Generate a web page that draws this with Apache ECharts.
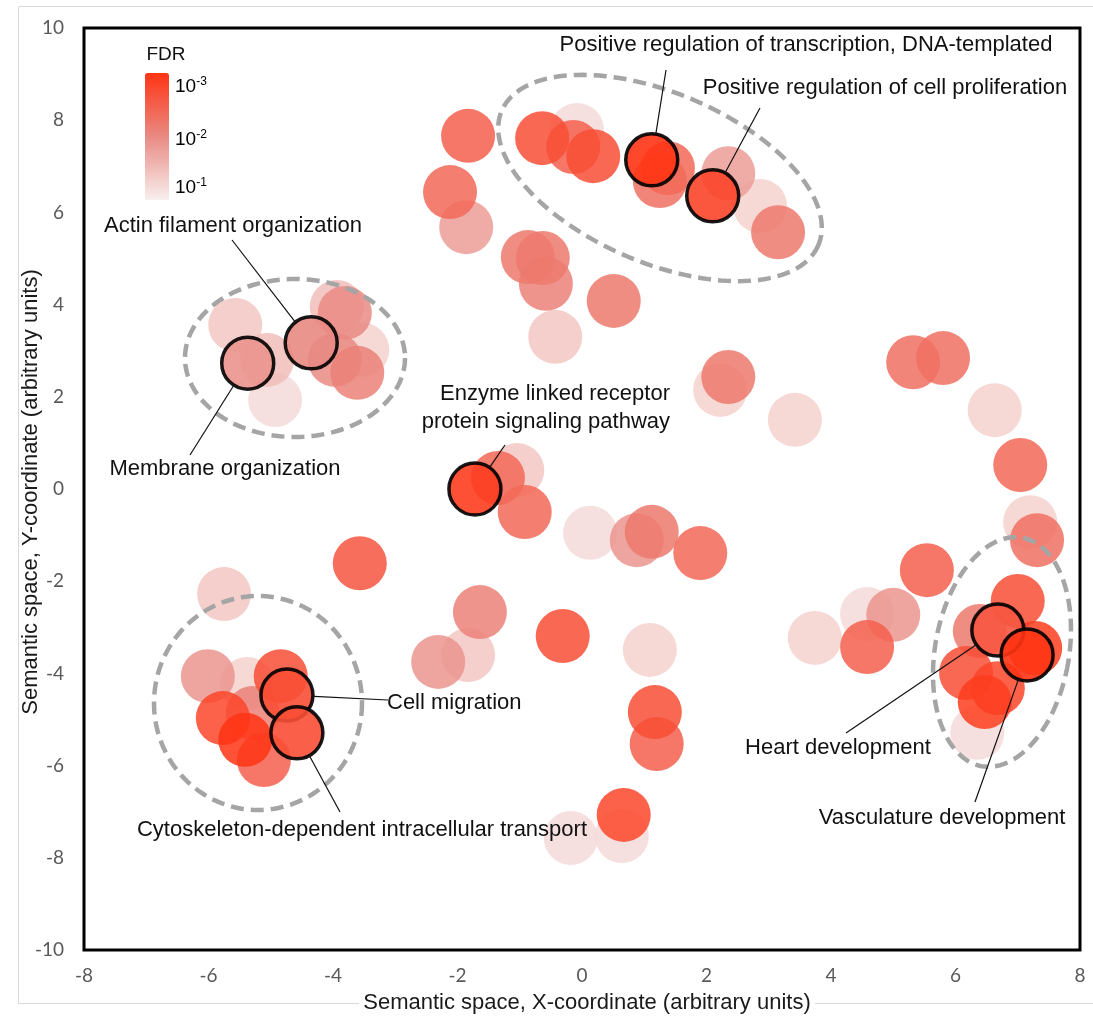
<!DOCTYPE html>
<html style="height: 100%">
<head>
	<meta charset="utf-8">
</head>
<body style="height: 100%; margin: 0; background: #fff">
<div id="container" style="width: 1093px; height: 1019px"></div>
<script type="text/javascript" src="https://cdn.jsdelivr.net/npm/echarts@6/dist/echarts.min.js"></script>
<script type="text/javascript">
    // GO terms in semantic space, fdr column is -log10(FDR)
    var termX = [-1.83, -2.12, -1.86, -0.87, -0.63, -0.58, 0.51, -0.43, -0.64, -0.08, -0.14, 0.18, 1.38, 1.25, 2.35, 2.86, 3.15,
        -5.57, -5.06, -4.93, -3.94, -3.81, -3.53, -3.97, -3.61,
        2.35, 2.22, 3.42, -1.35, -1.04, -0.92, 0.13, 0.88, 1.12, 1.90, -3.57,
        -5.75, -6.01, -5.38, -4.84, -5.77, -5.29, -5.41, -5.11,
        -1.64, -2.31, -1.83, -0.31, 1.09, 1.17, 1.20, 0.67, 0.64, -0.18,
        5.32, 5.80, 6.63, 7.04, 7.20, 7.31, 5.54, 3.74, 4.58, 5.00, 4.58, 7.00, 6.39, 7.28, 6.17, 6.68, 6.47, 6.35];
    var termY = [7.66, 6.44, 5.68, 5.03, 5.01, 4.45, 4.08, 3.30, 7.61, 7.79, 7.42, 7.22, 6.96, 6.68, 6.85, 6.14, 5.57,
        3.56, 2.80, 1.93, 3.95, 3.82, 3.02, 2.80, 2.52,
        2.43, 2.15, 1.50, 0.24, 0.41, -0.50, -0.95, -1.11, -0.93, -1.39, -1.61,
        -2.28, -4.06, -4.23, -4.06, -4.97, -4.86, -5.44, -5.88,
        -2.67, -3.75, -3.60, -3.19, -3.49, -4.84, -5.53, -7.07, -7.53, -7.57,
        2.75, 2.84, 1.71, 0.52, -0.72, -1.11, -1.76, -3.23, -2.71, -2.73, -3.43, -2.43, -3.08, -3.45, -3.99, -4.32, -4.62, -5.29];
    var termFdr = [2.5, 2.4, 1.8, 2.2, 2.2, 2.1, 2.2, 1.4, 2.7, 1.2, 2.5, 2.7, 2.4, 2.3, 1.8, 1.3, 2.2,
        1.4, 1.5, 1.2, 1.5, 2.0, 1.3, 2.0, 2.1,
        2.2, 1.3, 1.3, 2.4, 1.4, 2.4, 1.2, 1.9, 2.2, 2.4, 2.6,
        1.4, 1.9, 1.3, 2.7, 2.8, 2.1, 3.0, 2.5,
        2.1, 1.9, 1.4, 2.7, 1.3, 2.7, 2.5, 2.8, 1.2, 1.2,
        2.3, 2.3, 1.3, 2.4, 1.3, 2.3, 2.5, 1.3, 1.2, 1.9, 2.5, 2.7, 2.2, 2.9, 2.7, 2.8, 2.9, 1.2];

    // highlighted terms
    var hlNames = ['Positive regulation of transcription, DNA-templated', 'Positive regulation of cell proliferation',
        'Membrane organization', 'Actin filament organization', 'Enzyme linked receptor\nprotein signaling pathway',
        'Cell migration', 'Cytoskeleton-dependent intracellular transport', 'Heart development', 'Vasculature development'];
    var hlX = [1.12, 2.10, -5.37, -4.35, -1.72, -4.74, -4.58, 6.68, 7.15];
    var hlY = [7.14, 6.36, 2.73, 3.17, 0.00, -4.47, -5.29, -3.06, -3.60];
    var hlFdr = [3.0, 2.8, 1.9, 2.0, 2.9, 2.7, 2.7, 2.6, 3.0];

    // label placement (px): text anchor and end of leader line
    var labelPos = [
        {tx: 806, ty: 45, align: 'center', lx: 666, ly: 70},
        {tx: 885, ty: 88, align: 'center', lx: 760, ly: 108},
        {tx: 225, ty: 469, align: 'center', lx: 190, ly: 455},
        {tx: 233, ty: 226, align: 'center', lx: 232, ly: 240},
        {tx: 670, ty: 408, align: 'right', lx: 505, ly: 445},
        {tx: 387, ty: 703, align: 'left', lx: 388, ly: 700},
        {tx: 362, ty: 830, align: 'center', lx: 340, ly: 812},
        {tx: 838, ty: 748, align: 'center', lx: 846, ly: 733},
        {tx: 942, ty: 818, align: 'center', lx: 975, ly: 802}
    ];

    // dashed cluster outlines (px): cx, cy, rx, ry, rotation in degrees
    var clusters = [
        [660, 178, 172, 85, 23],
        [295, 358, 110, 79, 0],
        [258, 703, 104, 107, 0],
        [1002, 652, 67, 116, 10]
    ];

    var dom = document.getElementById("container");
    var myChart = echarts.init(dom);

    var mainData = [];
    for (var i = 0; i < termX.length; i++) {
        mainData.push([termX[i], termY[i], termFdr[i]]);
    }
    mainData.sort(function (a, b) { return a[2] - b[2]; });
    var hlData = [];
    for (var j = 0; j < hlX.length; j++) {
        hlData.push([hlX[j], hlY[j], hlFdr[j]]);
    }

    var tickFont = {color: '#595959', fontSize: 19, fontFamily: 'Lato'};

    var option = {
        backgroundColor: '#fff',
        animation: false,
        grid: {
            left: 84, right: 13, top: 28, bottom: 69,
            show: true, borderColor: '#000', borderWidth: 3
        },
        xAxis: {
            type: 'value', min: -8, max: 8, interval: 2,
            axisLine: {show: false}, axisTick: {show: false}, splitLine: {show: false},
            axisLabel: Object.assign({margin: 16}, tickFont)
        },
        yAxis: {
            type: 'value', min: -10, max: 10, interval: 2,
            axisLine: {show: false}, axisTick: {show: false}, splitLine: {show: false},
            axisLabel: Object.assign({margin: 20}, tickFont)
        },
        visualMap: {
            type: 'continuous',
            min: 1, max: 3, dimension: 2, seriesIndex: [0, 1],
            calculable: false,
            orient: 'vertical',
            left: 145, top: 73, padding: 0,
            itemWidth: 24, itemHeight: 127,
            inRange: {color: ['#f8efee', '#e98a83', '#ff3414']}
        },
        series: [
            {
                type: 'scatter', symbolSize: 54, data: mainData,
                itemStyle: {opacity: 0.85}
            },
            {
                type: 'scatter', symbolSize: 52, data: hlData, z: 3,
                itemStyle: {opacity: 0.9, borderColor: '#000', borderWidth: 3.5}
            }
        ]
    };
    myChart.setOption(option);

    function ellipsePts(c) {
        var pts = [], a = c[4] * Math.PI / 180;
        for (var k = 0; k <= 160; k++) {
            var t = k / 160 * 2 * Math.PI;
            var ex = c[2] * Math.cos(t), ey = c[3] * Math.sin(t);
            pts.push([c[0] + ex * Math.cos(a) - ey * Math.sin(a), c[1] + ex * Math.sin(a) + ey * Math.cos(a)]);
        }
        return pts;
    }

    var sup = {
        b: {fontSize: 19, fontFamily: 'Liberation Sans', color: '#111', lineHeight: 22},
        s: {fontSize: 12, fontFamily: 'Liberation Sans', color: '#111', verticalAlign: 'top'}
    };
    var els = [
        // outer chart frame
        {type: 'rect', z: 1, shape: {x: 18.5, y: 6.5, width: 1090, height: 997},
            style: {fill: null, stroke: '#d9d9d9', lineWidth: 1}},
        {type: 'text', z: 2, x: 587, y: 1003,
            style: {text: 'Semantic space, X-coordinate (arbitrary units)', fontSize: 22, fontFamily: 'Liberation Sans',
                fill: '#1a1a1a', align: 'center', verticalAlign: 'middle', backgroundColor: '#fff', padding: [0, 4]}},
        {type: 'text', z: 2, x: 31, y: 492, rotation: Math.PI / 2,
            style: {text: 'Semantic space, Y-coordinate (arbitrary units)', fontSize: 22, fontFamily: 'Liberation Sans',
                fill: '#1a1a1a', align: 'center', verticalAlign: 'middle'}},
        {type: 'text', z: 2, x: 166, y: 55,
            style: {text: 'FDR', fontSize: 19, fontFamily: 'Liberation Sans', fill: '#111', align: 'center', verticalAlign: 'middle'}},
        {type: 'text', z: 2, x: 175, y: 87, style: {text: '{b|10}{s|-3}', rich: sup, verticalAlign: 'middle'}},
        {type: 'text', z: 2, x: 175, y: 140, style: {text: '{b|10}{s|-2}', rich: sup, verticalAlign: 'middle'}},
        {type: 'text', z: 2, x: 175, y: 188, style: {text: '{b|10}{s|-1}', rich: sup, verticalAlign: 'middle'}}
    ];
    clusters.forEach(function (c) {
        els.push({type: 'polyline', z: 100, shape: {points: ellipsePts(c)},
            style: {fill: null, stroke: '#a5a5a5', lineWidth: 4.5, lineDash: [13, 7]}});
    });
    labelPos.forEach(function (p, k) {
        var c = myChart.convertToPixel({gridIndex: 0}, [hlX[k], hlY[k]]);
        var dx = p.lx - c[0], dy = p.ly - c[1], d = Math.sqrt(dx * dx + dy * dy);
        var r = 27;
        els.push({type: 'line', z: 101,
            shape: {x1: c[0] + dx / d * r, y1: c[1] + dy / d * r, x2: p.lx, y2: p.ly},
            style: {stroke: '#111', lineWidth: 1.2}});
        els.push({type: 'text', z: 101, x: p.tx, y: p.ty,
            style: {text: hlNames[k], fontSize: 22, fontFamily: 'Liberation Sans', fill: '#111',
                align: p.align, verticalAlign: 'middle', lineHeight: 28}});
    });
    myChart.setOption({graphic: {elements: els}});
</script>
</body>
</html>
